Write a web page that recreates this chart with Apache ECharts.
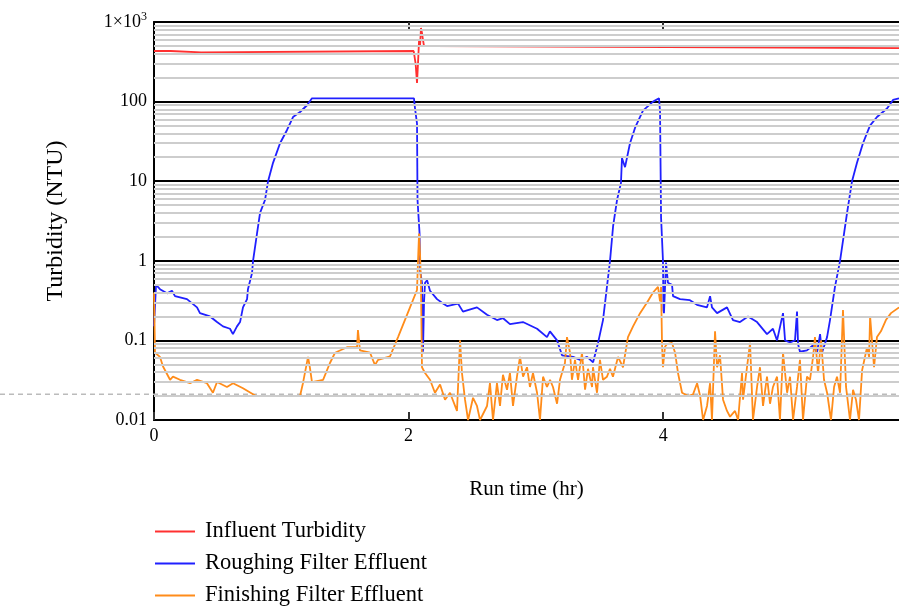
<!DOCTYPE html>
<html><head><meta charset="utf-8">
<script src="https://cdn.jsdelivr.net/npm/echarts@6/dist/echarts.min.js"></script>
<style>html,body{margin:0;padding:0;background:#fff}#c{width:899px;height:613px}</style>
</head><body><div id="c"></div>
<script>
const seriesNames = ['Influent Turbidity', 'Roughing Filter Effluent', 'Finishing Filter Effluent'];
const seriesColors = ['#ff3030', '#2020ff', '#ff8c1a'];

// [run time (hr), turbidity (NTU)]
const influent = [[0,432],[0.005,445],[0.01,432],[0.13,432],[0.135,416],[0.37,416],[0.375,432],[2.04,432],[2.05,425],[2.055,300],[2.066,171],[2.074,306],[2.082,594],[2.09,500],[2.097,841],[2.105,728],[2.113,594],[2.121,499],[2.2,499],[2.207,471],[5.852,471]];

const roughing = [[0,0.15],[0.016,0.5],[0.024,0.52],[0.047,0.44],[0.102,0.39],[0.141,0.42],[0.165,0.36],[0.259,0.33],[0.338,0.26],[0.361,0.22],[0.44,0.2],[0.495,0.17],[0.542,0.15],[0.597,0.14],[0.62,0.12],[0.652,0.15],[0.676,0.17],[0.699,0.26],[0.731,0.33],[0.738,0.44],[0.77,0.7],[0.778,1.0],[0.809,2.2],[0.833,4.0],[0.872,5.8],[0.896,10],[0.935,17],[0.99,30],[1.045,44],[1.092,64],[1.147,74],[1.202,90],[1.241,110],[2.042,110],[2.05,83],[2.066,53],[2.07,5.8],[2.082,5.5],[2.086,2.2],[2.09,0.76],[2.105,0.53],[2.109,0.23],[2.113,0.072],[2.121,0.3],[2.129,0.53],[2.145,0.57],[2.168,0.42],[2.223,0.33],[2.27,0.29],[2.302,0.27],[2.388,0.29],[2.427,0.23],[2.537,0.26],[2.616,0.21],[2.694,0.18],[2.742,0.19],[2.796,0.16],[2.898,0.17],[3.009,0.14],[3.087,0.11],[3.11,0.13],[3.166,0.1],[3.205,0.065],[3.292,0.062],[3.347,0.057],[3.402,0.062],[3.449,0.053],[3.488,0.093],[3.527,0.18],[3.582,1.0],[3.606,2.7],[3.637,5.8],[3.668,9.5],[3.676,19.6],[3.7,15],[3.739,30],[3.779,47],[3.841,77],[3.92,100],[3.967,110],[3.975,74],[3.983,3.5],[3.998,1.0],[4.002,0.24],[4.006,0.22],[4.022,0.95],[4.03,1.0],[4.037,0.53],[4.069,0.5],[4.077,0.36],[4.132,0.33],[4.21,0.32],[4.265,0.28],[4.344,0.26],[4.368,0.36],[4.383,0.26],[4.423,0.22],[4.501,0.26],[4.548,0.18],[4.603,0.17],[4.666,0.2],[4.737,0.17],[4.815,0.12],[4.862,0.14],[4.894,0.1],[4.941,0.22],[4.957,0.1],[4.996,0.094],[5.035,0.1],[5.051,0.23],[5.059,0.09],[5.074,0.072],[5.129,0.075],[5.177,0.087],[5.208,0.07],[5.232,0.12],[5.247,0.07],[5.287,0.11],[5.31,0.18],[5.349,0.47],[5.389,1.0],[5.444,4.0],[5.483,10],[5.522,17],[5.569,30],[5.624,50],[5.679,64],[5.758,82],[5.805,105],[5.852,110]];

const finishing = [[0,0.4],[0.008,0.07],[0.047,0.062],[0.071,0.047],[0.126,0.032],[0.149,0.035],[0.204,0.032],[0.283,0.029],[0.338,0.032],[0.416,0.029],[0.463,0.022],[0.495,0.03],[0.573,0.026],[0.621,0.029],[0.699,0.025],[0.778,0.021],[0.801,0.02],[1.147,0.02],[1.17,0.029],[1.21,0.062],[1.225,0.045],[1.241,0.03],[1.328,0.032],[1.382,0.052],[1.422,0.07],[1.516,0.082],[1.595,0.082],[1.602,0.135],[1.618,0.075],[1.697,0.07],[1.736,0.049],[1.76,0.057],[1.854,0.063],[1.917,0.11],[2.011,0.26],[2.066,0.43],[2.074,1.0],[2.082,2.2],[2.09,1.2],[2.097,0.5],[2.105,0.046],[2.129,0.039],[2.168,0.032],[2.207,0.022],[2.247,0.028],[2.286,0.018],[2.325,0.022],[2.38,0.013],[2.404,0.1],[2.419,0.039],[2.443,0.018],[2.467,0.01],[2.506,0.019],[2.537,0.015],[2.561,0.01],[2.616,0.015],[2.639,0.029],[2.663,0.01],[2.694,0.029],[2.718,0.015],[2.741,0.037],[2.773,0.024],[2.796,0.039],[2.82,0.015],[2.851,0.035],[2.875,0.062],[2.899,0.035],[2.93,0.046],[2.953,0.026],[2.977,0.039],[3.009,0.022],[3.032,0.01],[3.056,0.035],[3.087,0.026],[3.111,0.032],[3.134,0.026],[3.166,0.016],[3.189,0.032],[3.228,0.052],[3.244,0.11],[3.268,0.07],[3.283,0.032],[3.307,0.057],[3.331,0.032],[3.362,0.07],[3.386,0.024],[3.409,0.044],[3.441,0.026],[3.448,0.046],[3.48,0.022],[3.503,0.057],[3.527,0.032],[3.558,0.035],[3.582,0.044],[3.605,0.035],[3.645,0.062],[3.684,0.046],[3.723,0.11],[3.763,0.15],[3.818,0.22],[3.873,0.3],[3.92,0.4],[3.959,0.47],[3.975,0.31],[3.983,0.47],[3.991,0.083],[3.998,0.046],[4.014,0.083],[4.03,0.09],[4.069,0.093],[4.093,0.07],[4.116,0.039],[4.148,0.022],[4.195,0.02],[4.234,0.021],[4.266,0.029],[4.29,0.02],[4.313,0.01],[4.344,0.015],[4.368,0.029],[4.383,0.01],[4.407,0.13],[4.423,0.046],[4.446,0.065],[4.47,0.018],[4.501,0.013],[4.525,0.011],[4.564,0.013],[4.588,0.01],[4.619,0.039],[4.627,0.018],[4.658,0.046],[4.682,0.093],[4.705,0.01],[4.737,0.026],[4.76,0.046],[4.784,0.015],[4.815,0.035],[4.839,0.016],[4.862,0.026],[4.894,0.035],[4.917,0.01],[4.941,0.07],[4.973,0.022],[4.996,0.035],[5.02,0.01],[5.051,0.026],[5.074,0.057],[5.098,0.01],[5.129,0.035],[5.153,0.032],[5.177,0.062],[5.192,0.11],[5.216,0.039],[5.24,0.1],[5.263,0.032],[5.287,0.022],[5.318,0.01],[5.342,0.026],[5.365,0.035],[5.389,0.022],[5.412,0.24],[5.436,0.026],[5.467,0.01],[5.491,0.024],[5.514,0.018],[5.538,0.01],[5.562,0.042],[5.601,0.082],[5.617,0.062],[5.625,0.2],[5.656,0.046],[5.679,0.11],[5.71,0.13],[5.749,0.18],[5.789,0.22],[5.852,0.26]];

const xRange = [0, 5.852];
const xInterval = 2;
const xTickValues = [0, 2, 4];
const topTickValues = [2, 4];
const yRange = [0.01, 1000];
const yTickLabels = {'-2': '0.01', '-1': '0.1', '0': '1', '1': '10', '2': '100', '3': '{b|1×10}{s|3}'};
const minorFactors = [2, 3, 4, 5, 6, 7, 8, 9];
const decades = [0.01, 0.1, 1, 10, 100];
const threshold = 0.021;
const xName = 'Run time (hr)';
const yName = 'Turbidity (NTU)';

const FONT = 'Liberation Serif';
const minorLines = [];
decades.forEach(d => minorFactors.forEach(f => minorLines.push({ yAxis: +(d * f).toPrecision(3) })));

const chart = echarts.init(document.getElementById('c'), null, { renderer: 'canvas' });
const lineSeries = [influent, roughing, finishing].map((data, i) => ({
  name: seriesNames[i], type: 'line', data: data, showSymbol: false, symbol: 'none',
  lineStyle: { width: 1.8, color: seriesColors[i] }, itemStyle: { color: seriesColors[i] },
  z: 3, animation: false, sampling: null
}));
const option = {
  animation: false,
  backgroundColor: '#fff',
  grid: { left: 154, right: 0, top: 22, bottom: 193, containLabel: false },
  legend: {
    orient: 'vertical', left: 155, top: 520, height: 100, padding: 0,
    itemWidth: 40, itemHeight: 2, itemGap: 9, icon: 'rect',
    data: seriesNames,
    textStyle: { fontFamily: FONT, fontSize: 22.5, color: '#000', lineHeight: 22.5, padding: [0, 0, 0, 5] }
  },
  xAxis: [{
    type: 'value', min: xRange[0], max: xRange[1], interval: xInterval,
    name: xName, nameLocation: 'middle', nameGap: 59,
    nameTextStyle: { fontFamily: FONT, fontSize: 21, color: '#000' },
    axisLine: { show: true, onZero: false, lineStyle: { color: '#000', width: 2 } },
    axisTick: { show: true, inside: true, length: 8, customValues: xTickValues, lineStyle: { color: '#333', width: 2 } },
    axisLabel: { fontFamily: FONT, fontSize: 18, color: '#000', margin: 7, customValues: xTickValues },
    splitLine: { show: false }
  }, {
    type: 'value', position: 'top', min: xRange[0], max: xRange[1], interval: xInterval,
    axisLine: { show: true, onZero: false, lineStyle: { color: '#000', width: 2 } },
    axisTick: { show: true, inside: true, length: 7, customValues: topTickValues, lineStyle: { color: '#333', width: 2 } },
    axisLabel: { show: false }, splitLine: { show: false }
  }],
  yAxis: {
    type: 'log', logBase: 10, min: yRange[0], max: yRange[1],
    name: yName, nameLocation: 'middle', nameGap: 86, nameRotate: 90,
    nameTextStyle: { fontFamily: FONT, fontSize: 24, color: '#000' },
    axisLine: { show: true, lineStyle: { color: '#000', width: 2 } },
    axisTick: { show: false },
    axisLabel: {
      fontFamily: FONT, fontSize: 18, color: '#000', margin: 7,
      formatter: v => yTickLabels[String(Math.round(Math.log10(v)))] || '',
      rich: {
        b: { fontFamily: FONT, fontSize: 18, color: '#000', lineHeight: 22 },
        s: { fontFamily: FONT, fontSize: 12, color: '#000', lineHeight: 22, verticalAlign: 'top', padding: [0, 0, 8, 0] }
      }
    },
    splitLine: { show: true, lineStyle: { color: '#000', width: 2 } }
  },
  series: [{
    name: '_minor', type: 'line', data: [], silent: true, z: 1,
    markLine: {
      silent: true, symbol: 'none', label: { show: false }, animation: false,
      lineStyle: { color: '#cdcdcd', width: 2, type: 'solid' },
      emphasis: { disabled: true },
      data: minorLines
    }
  }].concat(lineSeries)
};
chart.setOption(option);
const ty = chart.convertToPixel({ yAxisIndex: 0 }, threshold);
chart.setOption({
  graphic: [{
    type: 'line', silent: true, z: 2,
    shape: { x1: 0, y1: ty, x2: 899, y2: ty },
    style: { stroke: '#bbbbbb', lineWidth: 1.5, lineDash: [5, 4] }
  }]
});
</script>
</body></html>
